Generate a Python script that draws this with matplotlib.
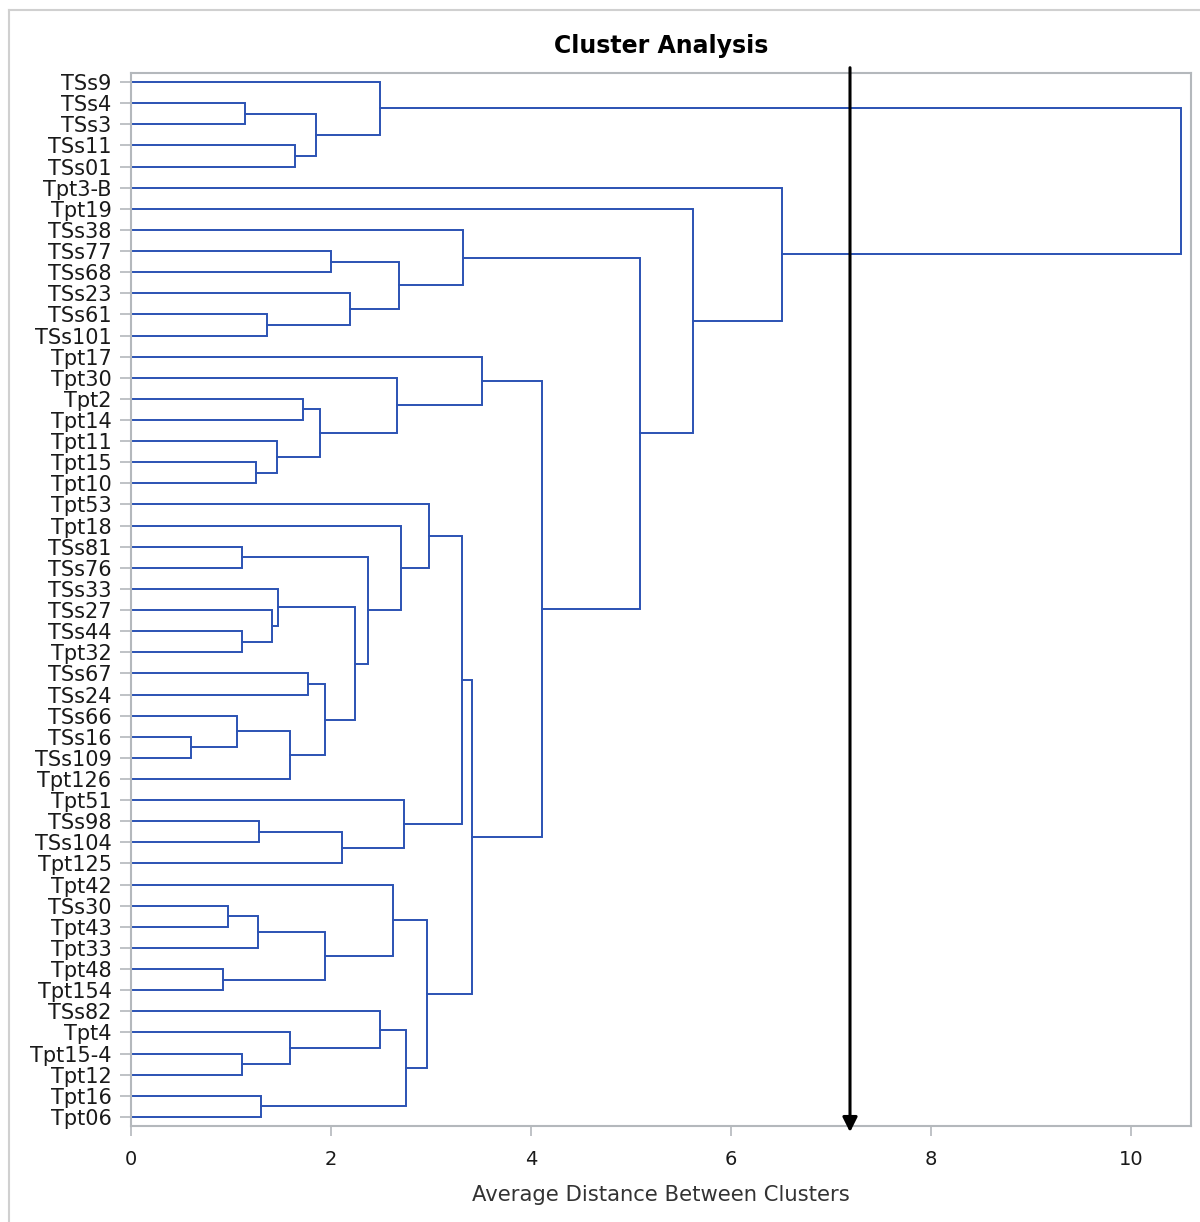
import numpy as np
import matplotlib
matplotlib.use("Agg")
from matplotlib import pyplot as plt
from matplotlib.lines import Line2D

plt.rcParams['font.family'] = ['DejaVu Sans']

# leaves in display order, top to bottom
leaves = ["TSs9", "TSs4", "TSs3", "TSs11", "TSs01", "Tpt3-B", "Tpt19", "TSs38", "TSs77", "TSs68",
          "TSs23", "TSs61", "TSs101", "Tpt17", "Tpt30", "Tpt2", "Tpt14", "Tpt11", "Tpt15", "Tpt10",
          "Tpt53", "Tpt18", "TSs81", "TSs76", "TSs33", "TSs27", "TSs44", "Tpt32", "TSs67", "TSs24",
          "TSs66", "TSs16", "TSs109", "Tpt126", "Tpt51", "TSs98", "TSs104", "Tpt125", "Tpt42", "TSs30",
          "Tpt43", "Tpt33", "Tpt48", "Tpt154", "TSs82", "Tpt4", "Tpt15-4", "Tpt12", "Tpt16", "Tpt06"]

# merges: node ids 0..49 are leaves, merge k gets id 50+k
merge_left = [31, 42, 39, 30, 1, 22, 26, 46, 18, 52, 35, 48, 11, 25, 17, 24, 33, 45, 3, 15,
              28, 54, 64, 70, 59, 8, 37, 10, 65, 55, 0, 44, 38, 14, 75, 21, 34, 81, 82, 20,
              89, 7, 90, 13, 93, 91, 6, 5, 80]
merge_right = [32, 43, 40, 50, 2, 23, 27, 47, 19, 41, 36, 49, 12, 56, 58, 63, 53, 57, 4, 16,
               29, 68, 69, 66, 51, 9, 60, 62, 73, 78, 71, 67, 74, 72, 77, 79, 76, 61, 87, 85,
               86, 84, 88, 83, 92, 94, 95, 96, 97]
merge_height = [0.60, 0.92, 0.97, 1.06, 1.14, 1.11, 1.11, 1.11, 1.25, 1.27, 1.28, 1.30, 1.36, 1.41,
                1.46, 1.47, 1.59, 1.59, 1.64, 1.72, 1.77, 1.85, 1.89, 1.94, 1.94, 2.00, 2.11, 2.19,
                2.24, 2.37, 2.49, 2.49, 2.62, 2.66, 2.68, 2.70, 2.73, 2.75, 2.96, 2.98, 3.31, 3.32,
                3.41, 3.51, 4.11, 5.09, 5.62, 6.51, 10.50]

cut_height = 7.19

blue = '#2b52b3'
gray = '#b4b8bc'

fig = plt.figure(figsize=(12, 12.22), dpi=100)
ax = fig.add_axes([131/1200, 1 - 1126/1222, (1191 - 131)/1200, (1126 - 73)/1222])

n = len(leaves)
xs = [0.0] * n
ys = list(range(n))
for a, b, h in zip(merge_left, merge_right, merge_height):
    ax.plot([xs[a], h, h, xs[b]], [ys[a], ys[a], ys[b], ys[b]], color=blue, lw=1.4,
            solid_joinstyle='miter', clip_on=False)
    xs.append(h)
    ys.append((ys[a] + ys[b]) / 2)

ax.set_xlim(0, 10.6)
ax.set_ylim(n - 1 + 0.43, -0.43)
ax.set_yticks(range(n))
ax.set_yticklabels(leaves)
ax.set_xticks([0, 2, 4, 6, 8, 10])
ax.tick_params(axis='y', length=8, width=1.2, color=gray, pad=6, labelsize=15,
               labelcolor='#1a1a1a')
ax.tick_params(axis='x', length=7, width=1.2, color=gray, pad=10, labelsize=14,
               labelcolor='#1a1a1a')
for s in ax.spines.values():
    s.set_color(gray)
    s.set_linewidth(1.5)

ax.annotate('', xy=(cut_height, n - 1 + 0.72), xytext=(cut_height, -0.68),
            xycoords='data', annotation_clip=False,
            arrowprops=dict(arrowstyle='-|>', color='black', lw=2.2, mutation_scale=22,
                            shrinkA=0, shrinkB=0))

ax.set_xlabel('Average Distance Between Clusters', fontsize=15.2, color='#333333', labelpad=12)
fig.text(661 / 1200, 1 - 46 / 1222, 'Cluster Analysis', ha='center', va='center',
         fontsize=17, fontweight='bold')

# light outer frame
fig.add_artist(Line2D([9/1200, 9/1200], [0, 1 - 10/1222], color='#d0d0d0', lw=1.5))
fig.add_artist(Line2D([9/1200, 1], [1 - 10/1222, 1 - 10/1222], color='#d0d0d0', lw=1.5))

fig.savefig('out.png', dpi=100)
